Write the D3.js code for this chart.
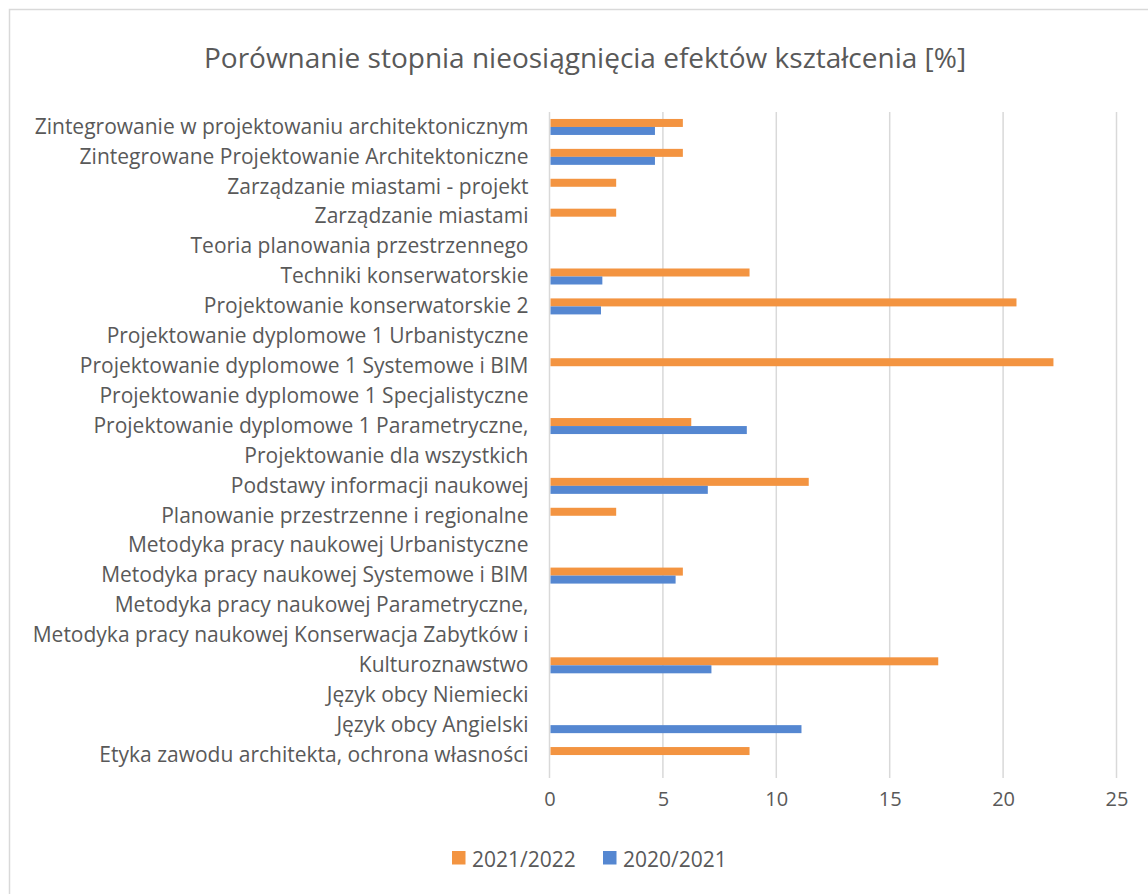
<!DOCTYPE html>
<html>
<head>
<meta charset="utf-8">
<script src="https://cdn.jsdelivr.net/npm/d3@7"></script>
<style>
  body { margin: 0; background: #fff; }
  text { font-family: "Open Sans", sans-serif; fill: #595959; }
</style>
</head>
<body>
<div id="chart"></div>
<script>
// DATOS
const categorias = [
  "Zintegrowanie w projektowaniu architektonicznym",
  "Zintegrowane Projektowanie Architektoniczne",
  "Zarządzanie miastami - projekt",
  "Zarządzanie miastami",
  "Teoria planowania przestrzennego",
  "Techniki konserwatorskie",
  "Projektowanie konserwatorskie 2",
  "Projektowanie dyplomowe 1 Urbanistyczne",
  "Projektowanie dyplomowe 1 Systemowe i BIM",
  "Projektowanie dyplomowe 1 Specjalistyczne",
  "Projektowanie dyplomowe 1 Parametryczne,",
  "Projektowanie dla wszystkich",
  "Podstawy informacji naukowej",
  "Planowanie przestrzenne i regionalne",
  "Metodyka pracy naukowej Urbanistyczne",
  "Metodyka pracy naukowej Systemowe i BIM",
  "Metodyka pracy naukowej Parametryczne,",
  "Metodyka pracy naukowej Konserwacja Zabytków i",
  "Kulturoznawstwo",
  "Język obcy Niemiecki",
  "Język obcy Angielski",
  "Etyka zawodu architekta, ochrona własności"
];
const serie2122 = [5.88, 5.88, 2.94, 2.94, null, 8.82, 20.59, null, 22.22, null, 6.25, null, 11.43, 2.94, null, 5.88, null, null, 17.14, null, null, 8.82];
const serie2021 = [4.65, 4.65, null, null, null, 2.33, 2.27, null, null, null, 8.7, null, 6.98, null, null, 5.56, null, null, 7.14, null, 11.11, null];
const series = ["2021/2022", "2020/2021"];
const colores = ["#F39441", "#5587D1"];
const ticksX = [0, 5, 10, 15, 20, 25];
const titulo = "Porównanie stopnia nieosiągnięcia efektów kształcenia [%]";

const W = 1148, H = 894;
const margin = { top: 112, right: 32, bottom: 124, left: 549.5 };

const svg = d3.select("#chart").append("svg")
  .attr("width", W).attr("height", H);

// marco
svg.append("rect")
  .attr("x", 9.5).attr("y", 9.5)
  .attr("width", W + 20).attr("height", H + 20)
  .attr("fill", "#fff").attr("stroke", "#d9d9d9").attr("stroke-width", 1.5);

svg.append("text")
  .attr("x", 585).attr("y", 57)
  .attr("text-anchor", "middle").attr("dominant-baseline", "central")
  .style("font-size", "28px")
  .text(titulo);

const x = d3.scaleLinear().domain([0, 25]).range([margin.left, W - margin.right + 0.5]);
const y = d3.scaleBand().domain(categorias).range([margin.top, H - margin.bottom]);
const ySub = d3.scaleBand().domain(series).range([y.bandwidth() / 2 - 8, y.bandwidth() / 2 + 8]);

// grid
svg.append("g").selectAll("line").data(ticksX).join("line")
  .attr("x1", d => x(d)).attr("x2", d => x(d))
  .attr("y1", margin.top).attr("y2", H - margin.bottom + 8)
  .attr("stroke", "#d9d9d9").attr("stroke-width", 1.5);

// eje x
const ax = svg.append("g")
  .attr("transform", `translate(0,${H - margin.bottom})`)
  .call(d3.axisBottom(x).tickValues(ticksX).tickSize(0).tickPadding(22));
ax.select(".domain").remove();
ax.selectAll("text").style("font-size", "20px").attr("fill", "#595959");

// eje y
const ay = svg.append("g")
  .attr("transform", `translate(${margin.left - 21},0)`)
  .call(d3.axisLeft(y).tickSize(0).tickPadding(0));
ay.select(".domain").remove();
ay.selectAll("text").style("font-size", "21px").attr("fill", "#595959");

// barras
const datos = [serie2122, serie2021];
datos.forEach((vals, i) => {
  svg.append("g").selectAll("rect")
    .data(vals.map((v, j) => ({ cat: categorias[j], v: v })).filter(d => d.v != null))
    .join("rect")
    .attr("x", x(0) + 1)
    .attr("y", d => y(d.cat) + ySub(series[i]))
    .attr("width", d => x(d.v) - x(0) - 1)
    .attr("height", ySub.bandwidth())
    .attr("fill", colores[i]);
});

// leyenda
const ley = svg.append("g").attr("transform", "translate(452,851)");
const itemX = [0, 151];
series.forEach((s, i) => {
  const it = ley.append("g").attr("transform", `translate(${itemX[i]},0)`);
  it.append("rect").attr("width", 13.5).attr("height", 13.5).attr("fill", colores[i]);
  it.append("text").attr("x", 20).attr("y", 7.5)
    .attr("dominant-baseline", "central")
    .style("font-size", "21px").text(s);
});
</script>
</body>
</html>
